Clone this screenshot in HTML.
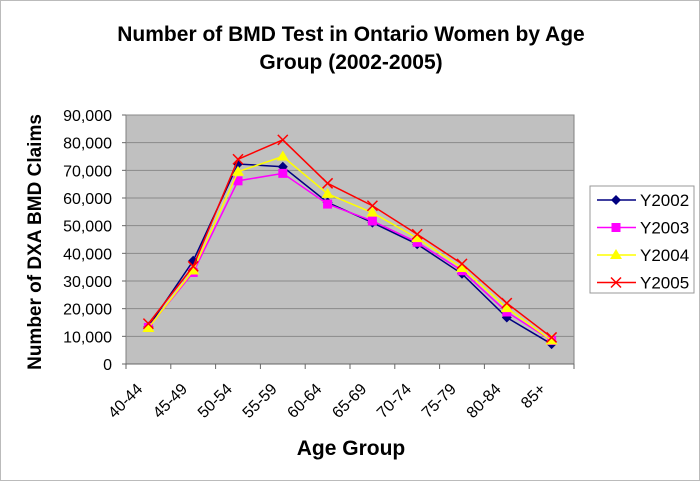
<!DOCTYPE html>
<html><head><meta charset="utf-8"><style>
html,body{margin:0;padding:0;background:#fff;}
svg{display:block;font-family:"Liberation Sans",Arial,sans-serif;}
</style></head><body>
<svg id="chart" width="700" height="481">
<rect x="0.5" y="0.5" width="699" height="480" fill="#fff" stroke="#bbb"/>
<text x="351" y="41" text-anchor="middle" font-size="21" font-weight="bold">Number of BMD Test in Ontario Women by Age</text>
<text x="351" y="69" text-anchor="middle" font-size="21" font-weight="bold">Group (2002-2005)</text>
<text transform="translate(41,242) rotate(-90)" text-anchor="middle" font-size="19" font-weight="bold">Number of DXA BMD Claims</text>
<text x="351" y="455" text-anchor="middle" font-size="21" font-weight="bold">Age Group</text>
<g id="plot"></g>
<g id="legend"></g>
</svg>
<script>
const categories=["40-44","45-49","50-54","55-59","60-64","65-69","70-74","75-79","80-84","85+"];
const seriesNames=["Y2002","Y2003","Y2004","Y2005"];
const y2002=[13500,37300,72300,71300,58400,51100,43300,32600,16800,7200];
const y2003=[13200,33100,66200,68900,57800,51700,44000,33700,18800,8500];
const y2004=[13000,33800,69500,75000,61500,54700,45500,34700,20200,8500];
const y2005=[14600,35300,74000,81000,65300,57200,46900,36200,22000,9600];
const yTicks=[0,10000,20000,30000,40000,50000,60000,70000,80000,90000];
const yTickLabels=["0","10,000","20,000","30,000","40,000","50,000","60,000","70,000","80,000","90,000"];

const NS="http://www.w3.org/2000/svg";
const L=126,R=574,T=115,B=364,YMAX=90000;
const band=(R-L)/categories.length;
const xs=i=>L+band*(i+0.5);
const ys=v=>B-(v/YMAX)*(B-T);
const plot=document.getElementById('plot');
function mk(tag,attrs,parent){const e=document.createElementNS(NS,tag);for(const k in attrs)e.setAttribute(k,attrs[k]);(parent||plot).appendChild(e);return e;}

const bg=mk('rect',{x:L,y:T,width:R-L,height:B-T,fill:'#c0c0c0',stroke:'#808080'});


yTicks.forEach((t,i)=>{
  const y=ys(t);
  if(t>0){const g=mk('line',{x1:L,x2:R,y1:y,y2:y,stroke:'#8a8a8a','stroke-width':1});
  
  }
  mk('line',{x1:L-4,x2:L,y1:y,y2:y,stroke:'#666'});
  const tx=mk('text',{x:L-14,y:y+6,'text-anchor':'end','font-size':16});
  tx.textContent=yTickLabels[i];
  
  
});
mk('line',{x1:L,x2:R,y1:B,y2:B,stroke:'#666'});
for(let i=0;i<=categories.length;i++){const x=L+band*i;mk('line',{x1:x,x2:x,y1:B,y2:B+5,stroke:'#666'});}
categories.forEach((c,i)=>{
  const x=xs(i)-5,y=B+26;
  const tx=mk('text',{x:x,y:y,'text-anchor':'end','font-size':16,transform:`rotate(-45 ${x} ${y})`});
  tx.textContent=c;
  
  
});
const colors=["#000080","#ff00ff","#ffff00","#ff0000"];
const data=[y2002,y2003,y2004,y2005];
function marker(k,x,y,parent){
  const c=colors[k];
  if(k===0)mk('polygon',{points:`${x},${y-5} ${x+5},${y} ${x},${y+5} ${x-5},${y}`,fill:c},parent);
  else if(k===1)mk('rect',{x:x-4.5,y:y-4.5,width:9,height:9,fill:c},parent);
  else if(k===2)mk('polygon',{points:`${x},${y-6} ${x+6},${y+4} ${x-6},${y+4}`,fill:c},parent);
  else{mk('line',{x1:x-5,y1:y-5,x2:x+5,y2:y+5,stroke:c,'stroke-width':1.5},parent);mk('line',{x1:x-5,y1:y+5,x2:x+5,y2:y-5,stroke:c,'stroke-width':1.5},parent);}
}
data.forEach((arr,k)=>{
  const g=mk('g',{});
  
  
  mk('polyline',{points:arr.map((v,i)=>xs(i)+','+ys(v)).join(' '),fill:'none',stroke:colors[k],'stroke-width':1.5},g);
  arr.forEach((v,i)=>marker(k,xs(i),ys(v),g));
});
const leg=document.getElementById('legend');
const lb=mk('rect',{x:590,y:186,width:104,height:107,fill:'#fff',stroke:'#999'},leg);


seriesNames.forEach((n,k)=>{
  const y=200+k*27.5;
  const g=mk('g',{},leg);
  
  
  mk('line',{x1:597,x2:636,y1:y,y2:y,stroke:colors[k],'stroke-width':1.5},g);
  marker(k,616,y,g);
  const t=mk('text',{x:640,y:y+6,'font-size':17},g);
  t.textContent=n;
});
</script>
</body></html>
